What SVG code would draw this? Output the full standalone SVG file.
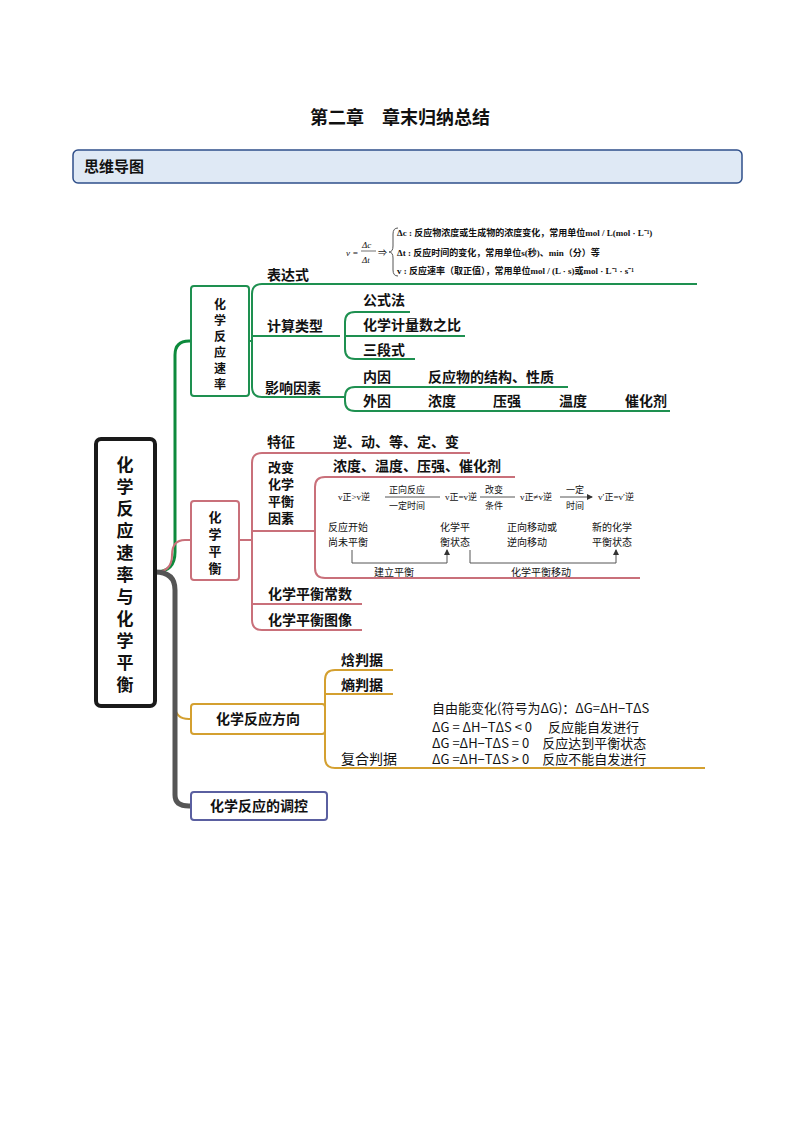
<svg xmlns="http://www.w3.org/2000/svg" width="800" height="1132" viewBox="0 0 800 1132">
<style>
text{font-family:"Noto Sans CJK SC","Liberation Sans",sans-serif;fill:#111}
.b{font-weight:bold}
.t{font-size:14px}
.s{font-size:9px;font-family:"Liberation Serif","Noto Sans CJK SC",serif}
.g{fill:none;stroke:#1e9050;stroke-width:2}
.r{fill:none;stroke:#c9707a;stroke-width:2}
.o{fill:none;stroke:#d4a030;stroke-width:2}
.k{fill:none;stroke:#555;stroke-width:1}
</style>
<defs><marker id="a" markerWidth="6" markerHeight="6" refX="5" refY="3" orient="auto"><path d="M0,0L6,3L0,6z" fill="#333"/></marker></defs>
<rect width="800" height="1132" fill="#fff"/>
<text x="400" y="124" text-anchor="middle" class="b" font-size="18">第二章　章末归纳总结</text>
<rect x="73" y="150" width="669" height="33" rx="5" fill="#dfe9f5" stroke="#2f4f8a" stroke-width="1.5"/>
<text x="84" y="172" class="b" font-size="15">思维导图</text>

<g id="connectors">
<path d="M155,572 Q175,572 175,552 L175,355 Q175,341 189,341 L191,341" fill="none" stroke="#0d8a3c" stroke-width="3"/>
<path d="M155,572 Q172,572 172,555 Q172,540 185,540 L191,540" fill="none" stroke="#c9707a" stroke-width="2"/>
<path d="M155,572 Q175,572 175,590 L175,705 Q175,719 189,719 L191,719" fill="none" stroke="#d4a030" stroke-width="2"/>
<path d="M155,572 Q175,572 175,590 L175,795 Q175,806 189,806 L191,806" fill="none" stroke="#555" stroke-width="5"/>
<path class="g" d="M249,341 L252,341 M697,284 L262,284 Q252,284 252,294 L252,387 Q252,397 262,397 L345,397 M252,336 L340,336 M410,312 L355,312 Q345,312 345,322 L345,349 Q345,359 355,359 L415,359 M345,336 L465,336 M568,387 L355,387 Q345,387 345,397 L345,401 Q345,411 355,411 L670,411"/>
<path class="r" d="M239,540 L252,540 M470,453 L262,453 Q252,453 252,463 L252,620 Q252,630 262,630 L362,630 M252,604 L362,604 M252,531 L315,531 M515,477 L325,477 Q315,477 315,487 L315,568 Q315,578 325,578 L640,578"/>
<path class="k" d="M352,550 L352,563 L447,563 L447,550" marker-end="url(#a)"/>
<path class="k" d="M470,550 L470,563 L616,563 L616,550" marker-end="url(#a)"/>
<path class="k" d="M385,497 L440,497 M480,497 L515,497 M560,497 L592,497" marker-end="url(#a)"/>
<path class="k" d="M398,228 Q393,228 393,234 L393,246 Q393,252 389,252 Q393,252 393,258 L393,270 Q393,276 398,276"/>
<path class="o" d="M319,719 L325,719 M393,670 L335,670 Q325,670 325,680 L325,758 Q325,768 335,768 L705,768 M325,694 L393,694"/>
</g>

<g id="center"><rect x="96" y="439" width="59" height="267" rx="5" fill="#fff" stroke="#1a1a1a" stroke-width="4"/>
<text class="b" font-size="17" text-anchor="middle"><tspan x="125" y="471">化</tspan><tspan x="125" y="493">学</tspan><tspan x="125" y="515">反</tspan><tspan x="125" y="537">应</tspan><tspan x="125" y="559">速</tspan><tspan x="125" y="581">率</tspan><tspan x="125" y="603">与</tspan><tspan x="125" y="625">化</tspan><tspan x="125" y="647">学</tspan><tspan x="125" y="669">平</tspan><tspan x="125" y="691">衡</tspan></text></g>

<g id="rate"><rect x="191" y="286" width="58" height="110" rx="3" fill="#fff" stroke="#1e9050" stroke-width="2"/>
<text class="b" font-size="12" text-anchor="middle"><tspan x="220" y="309">化</tspan><tspan x="220" y="325">学</tspan><tspan x="220" y="341">反</tspan><tspan x="220" y="357">应</tspan><tspan x="220" y="373">速</tspan><tspan x="220" y="389">率</tspan></text>
<text x="267" y="280" class="t b">表达式</text>
<text x="267" y="331" class="t b">计算类型</text>
<text x="265" y="393" class="t b">影响因素</text>
<text x="363" y="305" class="t b">公式法</text>
<text x="363" y="330" class="t b">化学计量数之比</text>
<text x="363" y="355" class="t b">三段式</text>
<text x="363" y="382" class="t b">内因</text>
<text x="428" y="382" class="t b">反应物的结构、性质</text>
<text x="363" y="406" class="t b">外因</text>
<text x="428" y="406" class="t b">浓度</text>
<text x="493" y="406" class="t b">压强</text>
<text x="559" y="406" class="t b">温度</text>
<text x="625" y="406" class="t b">催化剂</text>
<text class="s" x="346" y="256" font-style="italic">v =</text>
<text class="s" x="362" y="248" font-style="italic">Δc</text>
<line x1="361" y1="251" x2="376" y2="251" stroke="#111" stroke-width="0.6"/>
<text class="s" x="362" y="263" font-style="italic">Δt</text>
<text class="s" x="378" y="256">⇒</text>
<text class="s b" x="397" y="236">Δc : 反应物浓度或生成物的浓度变化，常用单位mol / L(mol · L⁻¹)</text>
<text class="s b" x="397" y="256">Δt : 反应时间的变化，常用单位s(秒)、min（分）等</text>
<text class="s b" x="397" y="274">v : 反应速率（取正值），常用单位mol / (L · s)或mol · L⁻¹ · s⁻¹</text>
</g>

<g id="equilibrium"><rect x="191" y="501" width="48" height="79" rx="3" fill="#fff" stroke="#c9707a" stroke-width="2"/>
<text class="b" font-size="13" text-anchor="middle"><tspan x="215" y="522">化</tspan><tspan x="215" y="539">学</tspan><tspan x="215" y="556">平</tspan><tspan x="215" y="573">衡</tspan></text>
<text x="267" y="447" class="t b">特征</text>
<text x="333" y="447" class="t b">逆、动、等、定、变</text>
<text class="b" font-size="13"><tspan x="268" y="472">改变</tspan><tspan x="268" y="489">化学</tspan><tspan x="268" y="506">平衡</tspan><tspan x="268" y="523">因素</tspan></text>
<text x="333" y="471" class="t b">浓度、温度、压强、催化剂</text>
<text x="268" y="599" class="t b">化学平衡常数</text>
<text x="268" y="625" class="t b">化学平衡图像</text>
<g font-size="9"><text x="338" y="500" class="s">v正&gt;v逆</text>
<text x="389" y="493">正向反应</text><text x="389" y="509">一定时间</text>
<text x="445" y="500" class="s">v正=v逆</text>
<text x="485" y="493">改变</text><text x="485" y="509">条件</text>
<text x="520" y="500" class="s">v正≠v逆</text>
<text x="566" y="493">一定</text><text x="566" y="509">时间</text>
<text x="598" y="500" class="s">v′正=v′逆</text></g>
<g font-size="10"><text x="328" y="531">反应开始</text><text x="328" y="546">尚未平衡</text>
<text x="440" y="531">化学平</text><text x="440" y="546">衡状态</text>
<text x="507" y="531">正向移动或</text><text x="507" y="546">逆向移动</text>
<text x="592" y="531">新的化学</text><text x="592" y="546">平衡状态</text>
<text x="374" y="576">建立平衡</text><text x="511" y="576">化学平衡移动</text></g>
</g>

<g id="direction"><rect x="191" y="704" width="134" height="30" rx="3" fill="#fff" stroke="#d4a030" stroke-width="2"/>
<text x="258" y="724" text-anchor="middle" class="t b">化学反应方向</text>
<text x="341" y="665" class="t b">焓判据</text>
<text x="341" y="690" class="t b">熵判据</text>
<text x="341" y="764" class="t">复合判据</text>
<g font-size="13"><text x="432" y="713">自由能变化(符号为ΔG)：ΔG=ΔH−TΔS</text>
<text x="432" y="732">ΔG = ΔH−TΔS &lt; 0　 反应能自发进行</text>
<text x="432" y="748">ΔG =ΔH−TΔS = 0　反应达到平衡状态</text>
<text x="432" y="764">ΔG =ΔH−TΔS &gt; 0　反应不能自发进行</text></g>
</g>

<g id="control"><rect x="191" y="792" width="136" height="28" rx="3" fill="#fff" stroke="#5a5fa0" stroke-width="2"/>
<text x="259" y="811" text-anchor="middle" class="t b">化学反应的调控</text></g>
</svg>
